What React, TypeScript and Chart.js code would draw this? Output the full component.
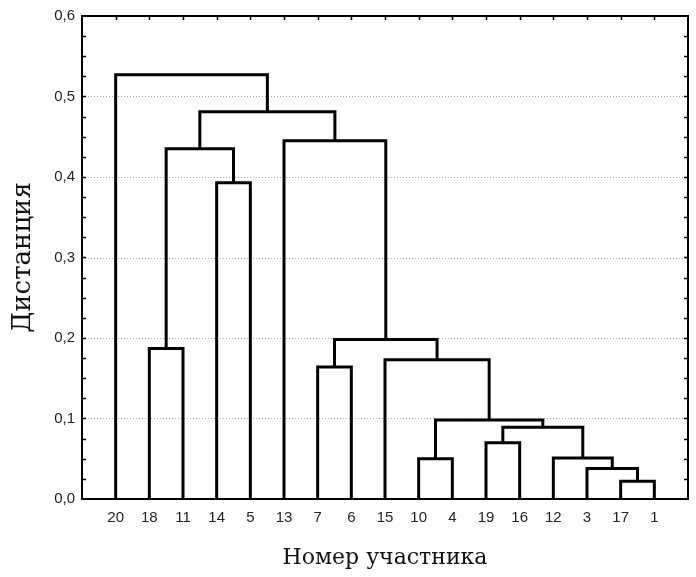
import React, { useEffect, useRef } from 'react';
import { Chart, registerables } from 'chart.js';

Chart.register(...registerables);

// Leaves in dendrogram order (left to right)
const leafLabels = ['20', '18', '11', '14', '5', '13', '7', '6', '15', '10', '4', '19', '16', '12', '3', '17', '1'];

// Merge steps: node ids 0..16 are leaves (by position), 17+ are clusters created in this order
const mergeLeft = [15, 14, 13, 11, 20, 9, 22, 6, 8, 24, 1, 3, 27, 5, 29, 0];
const mergeRight = [16, 17, 18, 12, 19, 10, 21, 7, 23, 25, 2, 4, 28, 26, 30, 31];
const mergeHeight = [0.022, 0.038, 0.051, 0.070, 0.089, 0.050, 0.098, 0.164, 0.173, 0.198, 0.187, 0.393, 0.435, 0.445, 0.481, 0.527];

const yTickValues = [0, 0.1, 0.2, 0.3, 0.4, 0.5, 0.6];
const yTickLabels = ['0,0', '0,1', '0,2', '0,3', '0,4', '0,5', '0,6'];
const yMinorStep = 0.025;

const xTitle = 'Номер участника';
const yTitle = 'Дистанция';

function buildSegments() {
  const pos: number[] = leafLabels.map((_, i) => i + 1);
  const hgt: number[] = leafLabels.map(() => 0);
  const segs: { x: number; y: number }[][] = [];
  for (let i = 0; i < mergeHeight.length; i++) {
    const l = mergeLeft[i];
    const r = mergeRight[i];
    const h = mergeHeight[i];
    segs.push([
      { x: pos[l], y: hgt[l] },
      { x: pos[l], y: h },
      { x: pos[r], y: h },
      { x: pos[r], y: hgt[r] },
    ]);
    pos.push((pos[l] + pos[r]) / 2);
    hgt.push(h);
  }
  return segs;
}

const framePlugin = {
  id: 'framePlugin',
  beforeDatasetsDraw(chart: any) {
    const { ctx, chartArea, scales } = chart;
    const { left, right } = chartArea;
    ctx.save();
    ctx.strokeStyle = '#a8a8a8';
    ctx.lineWidth = 1;
    ctx.setLineDash([1, 2]);
    yTickValues.slice(1, -1).forEach((v) => {
      const py = Math.round(scales.y.getPixelForValue(v)) + 0.5;
      ctx.beginPath();
      ctx.moveTo(left, py);
      ctx.lineTo(right, py);
      ctx.stroke();
    });
    ctx.restore();
  },
  afterDatasetsDraw(chart: any) {
    const { ctx, chartArea, scales } = chart;
    const { left, right, top, bottom } = chartArea;
    ctx.save();
    ctx.strokeStyle = '#000';
    ctx.lineWidth = 2;
    ctx.strokeRect(left, top, right - left, bottom - top);
    ctx.lineWidth = 1.5;
    const ymax = yTickValues[yTickValues.length - 1];
    const n = Math.round(ymax / yMinorStep);
    for (let k = 1; k < n; k++) {
      const py = Math.round(scales.y.getPixelForValue(k * yMinorStep)) + 0.5;
      ctx.beginPath();
      ctx.moveTo(left, py);
      ctx.lineTo(left + 4, py);
      ctx.moveTo(right, py);
      ctx.lineTo(right - 4, py);
      ctx.stroke();
    }
    leafLabels.forEach((_, i) => {
      const px = Math.round(scales.x.getPixelForValue(i + 1)) + 0.5;
      ctx.beginPath();
      ctx.moveTo(px, top);
      ctx.lineTo(px, top + 4);
      ctx.stroke();
    });
    ctx.restore();
  },
};

export default function App() {
  const ref = useRef<HTMLCanvasElement | null>(null);
  useEffect(() => {
    if (!ref.current) return;
    const segs = buildSegments();
    const chart = new Chart(ref.current, {
      type: 'scatter',
      data: {
        datasets: segs.map((s) => ({
          data: s,
          showLine: true,
          borderColor: '#000',
          borderWidth: 3,
          pointRadius: 0,
          pointHoverRadius: 0,
          fill: false,
          tension: 0,
          borderJoinStyle: 'miter',
          borderCapStyle: 'butt',
        })),
      },
      options: {
        animation: false,
        responsive: false,
        events: [],
        layout: { padding: { left: 0, right: 8, top: 16, bottom: 0 } },
        plugins: { legend: { display: false }, tooltip: { enabled: false } },
        scales: {
          x: {
            type: 'linear',
            min: 0,
            max: leafLabels.length + 1,
            afterBuildTicks: (s: any) => {
              s.ticks = leafLabels.map((_, i) => ({ value: i + 1 }));
            },
            afterFit: (s: any) => {
              s.height = 78;
            },
            ticks: {
              autoSkip: false,
              maxRotation: 0,
              padding: 10,
              color: '#222',
              font: { family: 'Liberation Sans', size: 15 },
              callback: (_v: any, i: number) => leafLabels[i],
            },
            grid: { display: false, drawTicks: false },
            border: { display: false },
            title: {
              display: true,
              text: xTitle,
              color: '#111',
              font: { family: 'DejaVu Serif', size: 22 },
              padding: { top: 0, bottom: 6 },
            },
          },
          y: {
            type: 'linear',
            min: 0,
            max: 0.6,
            afterBuildTicks: (s: any) => {
              s.ticks = yTickValues.map((v) => ({ value: v }));
            },
            afterFit: (s: any) => {
              s.width = 82;
            },
            ticks: {
              padding: 7,
              color: '#222',
              font: { family: 'Liberation Sans', size: 15 },
              callback: (_v: any, i: number) => yTickLabels[i],
            },
            grid: { display: false, drawTicks: false },
            border: { display: false },
            title: {
              display: true,
              text: yTitle,
              color: '#111',
              font: { family: 'DejaVu Serif', size: 26 },
              padding: { top: 8, bottom: 0 },
            },
          },
        },
      } as any,
      plugins: [framePlugin],
    });
    return () => chart.destroy();
  }, []);
  return (
    <canvas
      ref={ref}
      width={696}
      height={577}
      style={{ position: 'absolute', left: 0, top: 0, display: 'block', background: '#fff' }}
    />
  );
}
